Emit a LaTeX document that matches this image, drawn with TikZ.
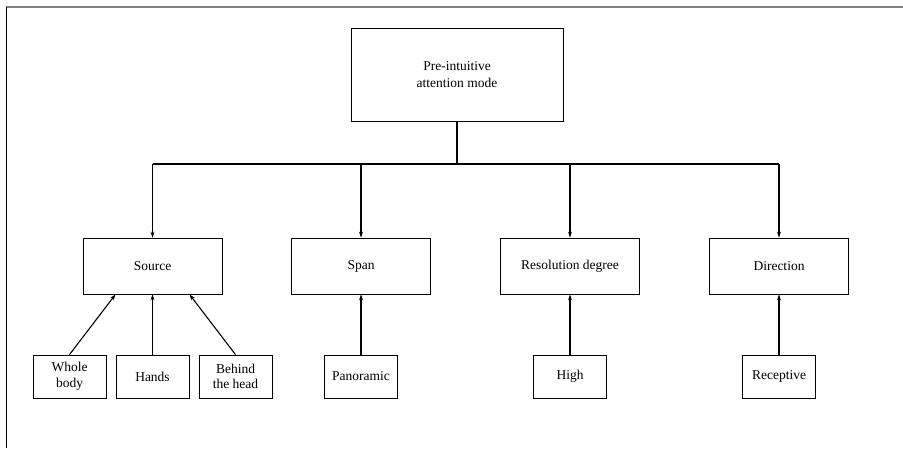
\documentclass[tikz,border=0pt]{standalone}
\usepackage{fontspec}
\setmainfont{Liberation Serif}
\newfontfamily\boxfont{Liberation Serif}
\usetikzlibrary{arrows.meta,calc}
\tikzset{
  box/.style={draw,line width=0.8pt,inner sep=2pt,align=center,font=\boxfont\fontsize{13.5}{15.5}\selectfont},
  mainbox/.style={box,minimum width=212pt,minimum height=93pt,font=\boxfont\fontsize{13.5}{16.5}\selectfont},
  aspectbox/.style={box,minimum width=139pt,minimum height=56pt},
  kindbox/.style={box,minimum width=73pt,minimum height=43pt},
  link/.style={line width=1.1pt,-{Stealth[length=6pt,width=4pt]}}
}
\begin{document}
\begin{tikzpicture}[x=1pt,y=1pt]
\useasboundingbox (0,0) rectangle (903,448);
\draw[gray,line width=1.5pt] (6,441) -- (903,441);
\draw[line width=1.5pt] (6.5,441) -- (6.5,0);

\node[mainbox] (mode) at (457,373.5) {Pre-intuitive\\attention mode};

\node[aspectbox] (source) at (152.5,182) {Source};
\node[aspectbox] (span) at (361,182) {Span};
\node[aspectbox] (res) at (570,182) {Resolution degree};
\node[aspectbox] (dir) at (779,182) {Direction};

\node[kindbox] (whole) at (69.5,71.5) {Whole\\body};
\node[kindbox] (hands) at (152.5,71.5) {Hands};
\node[kindbox] (behind) at (235.5,71.5) {Behind\\the head};
\node[kindbox] (pano) at (361,71.5) {Panoramic};
\node[kindbox] (high) at (570,71.5) {High};
\node[kindbox] (recep) at (779,71.5) {Receptive};

\coordinate (bar) at (457,284);
\draw[line width=1.1pt] (mode) -- (bar);
\draw[line width=1.1pt] (source.north |- bar) -- (dir.north |- bar);
\foreach \n in {source,span,res,dir}
  \draw[link] (\n.north |- bar) -- (\n.north);

\draw[link] (whole.north) -- ($(source.south)+(-37,0)$);
\draw[link] (hands) -- (source);
\draw[link] (behind.north) -- ($(source.south)+(37,0)$);
\draw[link] (pano) -- (span);
\draw[link] (high) -- (res);
\draw[link] (recep) -- (dir);
\end{tikzpicture}
\end{document}
